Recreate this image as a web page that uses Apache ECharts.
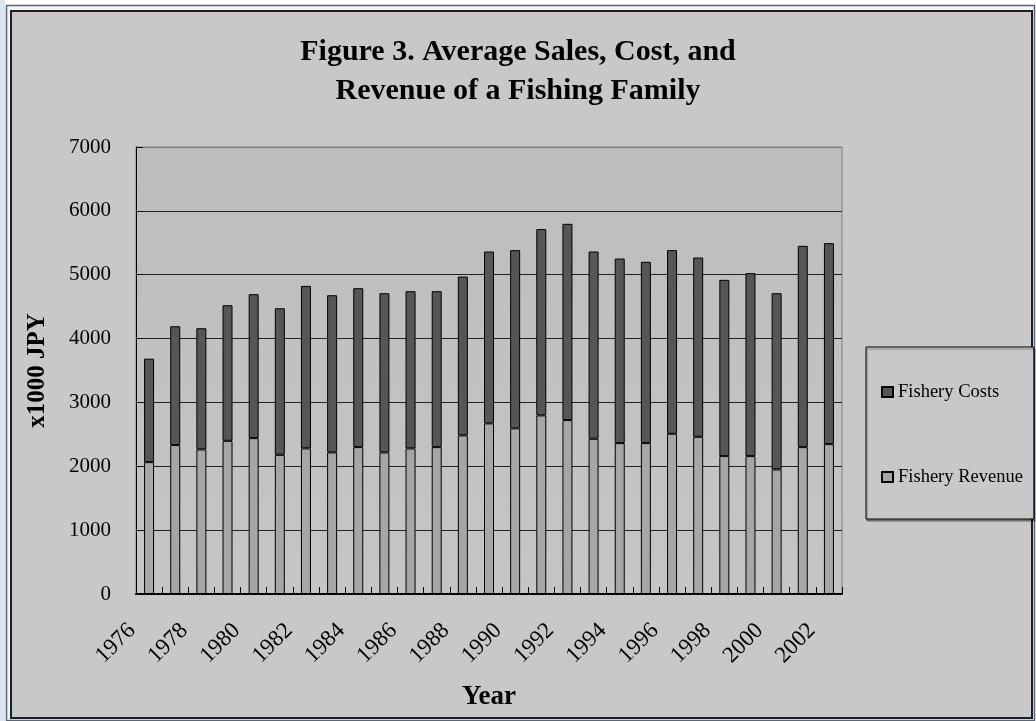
<!DOCTYPE html>
<html>
<head>
<meta charset="utf-8">
<script src="https://cdn.jsdelivr.net/npm/echarts@6/dist/echarts.min.js"></script>
<style>
  html, body { margin: 0; padding: 0; background: #ffffff; }
  #chart { width: 1036px; height: 721px; }
</style>
</head>
<body>
<div id="chart"></div>
<script>
// Survey years
const years = ['1976','1977','1978','1979','1980','1981','1982','1983','1984','1985',
  '1986','1987','1988','1989','1990','1991','1992','1993','1994','1995',
  '1996','1997','1998','1999','2000','2001','2002'];

// Fishery revenue per family (x1000 JPY), lower part of each stack
const fisheryRevenue = [2065, 2332, 2264, 2399, 2441, 2180, 2280, 2217, 2300, 2217,
  2280, 2300, 2483, 2672, 2594, 2797, 2724, 2431, 2363, 2363,
  2509, 2462, 2159, 2159, 1951, 2300, 2347];

// Fishery costs per family (x1000 JPY), stacked on top of revenue
const fisheryCosts = [1620, 1861, 1898, 2123, 2254, 2295, 2545, 2462, 2489, 2493,
  2462, 2442, 2488, 2691, 2791, 2917, 3073, 2932, 2890, 2839,
  2876, 2807, 2760, 2865, 2759, 3152, 3147];

const yTicks = { min: 0, max: 7000, step: 1000 };

const serif = "'Liberation Serif', 'Times New Roman', serif";

const chart = echarts.init(document.getElementById('chart'), null, { renderer: 'canvas' });

chart.setOption({
  backgroundColor: '#ffffff',
  animation: false,
  graphic: [
    { type: 'rect', z: -10, silent: true,
      shape: { x: 0, y: 0, width: 5, height: 721 },
      style: { fill: '#dbe5ef' } },
    { type: 'rect', z: -9, silent: true,
      shape: { x: 6.5, y: 5.5, width: 1028, height: 715 },
      style: { fill: '#f4f6f8', stroke: '#55657a', lineWidth: 1.5 } },
    { type: 'rect', z: -8, silent: true,
      shape: { x: 11, y: 11, width: 1021, height: 707 },
      style: { fill: '#c8c8c8', stroke: '#1e1e1e', lineWidth: 2 } }
  ],
  title: {
    text: 'Figure 3. Average Sales, Cost, and\nRevenue of a Fishing Family',
    left: 'center',
    top: 28,
    textStyle: {
      fontFamily: serif,
      fontWeight: 'bold',
      fontSize: 30,
      lineHeight: 39,
      color: '#000'
    }
  },
  legend: {
    data: ['Fishery Costs', 'Fishery Revenue'],
    orient: 'vertical',
    left: 866,
    top: 347,
    padding: [35, 11, 32, 15],
    itemGap: 65,
    itemWidth: 11,
    itemHeight: 10,
    borderColor: '#000',
    borderWidth: 1,
    shadowColor: 'rgba(0,0,0,0.35)',
    shadowOffsetX: 1,
    shadowOffsetY: 2,
    shadowBlur: 1,
    backgroundColor: '#c8c8c8',
    icon: 'rect',
    textStyle: { fontFamily: serif, fontSize: 18.5, color: '#000', lineHeight: 20 }
  },
  grid: {
    left: 136,
    right: 194,
    top: 147,
    bottom: 127,
    show: true,
    borderColor: '#808080',
    borderWidth: 1,
    backgroundColor: new echarts.graphic.LinearGradient(0, 0, 0, 1, [
      { offset: 0, color: '#bdbdbd' },
      { offset: 1, color: '#c5c5c5' }
    ])
  },
  xAxis: {
    type: 'category',
    data: years,
    boundaryGap: true,
    name: 'Year',
    nameLocation: 'middle',
    nameGap: 90,
    nameTextStyle: { fontFamily: serif, fontWeight: 'bold', fontSize: 27, color: '#000' },
    axisLine: { lineStyle: { color: '#000', width: 2 } },
    axisTick: { show: true, inside: true, length: 7, interval: 0, lineStyle: { color: '#000' } },
    axisLabel: {
      interval: 1,
      rotate: 45,
      margin: 16,
      padding: [0, 24, 0, 0],
      fontFamily: serif,
      fontSize: 23,
      color: '#000'
    },
    splitLine: { show: false }
  },
  yAxis: {
    type: 'value',
    min: yTicks.min,
    max: yTicks.max,
    interval: yTicks.step,
    name: 'x1000 JPY',
    nameLocation: 'middle',
    nameGap: 86,
    nameTextStyle: { fontFamily: serif, fontWeight: 'bold', fontSize: 25, color: '#000' },
    axisLine: { show: true, lineStyle: { color: '#000', width: 1 } },
    axisTick: { show: true, inside: true, length: 7, lineStyle: { color: '#000' } },
    axisLabel: {
      margin: 25,
      fontFamily: serif,
      fontSize: 21,
      color: '#000',
      formatter: (v) => String(v)
    },
    splitLine: {
      show: true,
      lineStyle: {
        color: ['#222', '#222', '#222', '#222', '#222', '#222', '#222', '#808080'],
        width: 1
      }
    }
  },
  series: [
    {
      name: 'Fishery Revenue',
      type: 'bar',
      stack: 'family',
      data: fisheryRevenue,
      barWidth: 10,
      itemStyle: { color: '#a6a6a6', borderColor: '#000', borderWidth: 1 }
    },
    {
      name: 'Fishery Costs',
      type: 'bar',
      stack: 'family',
      data: fisheryCosts,
      barWidth: 10,
      itemStyle: { color: '#565656', borderColor: '#000', borderWidth: 1 }
    }
  ]
});
</script>
</body>
</html>
